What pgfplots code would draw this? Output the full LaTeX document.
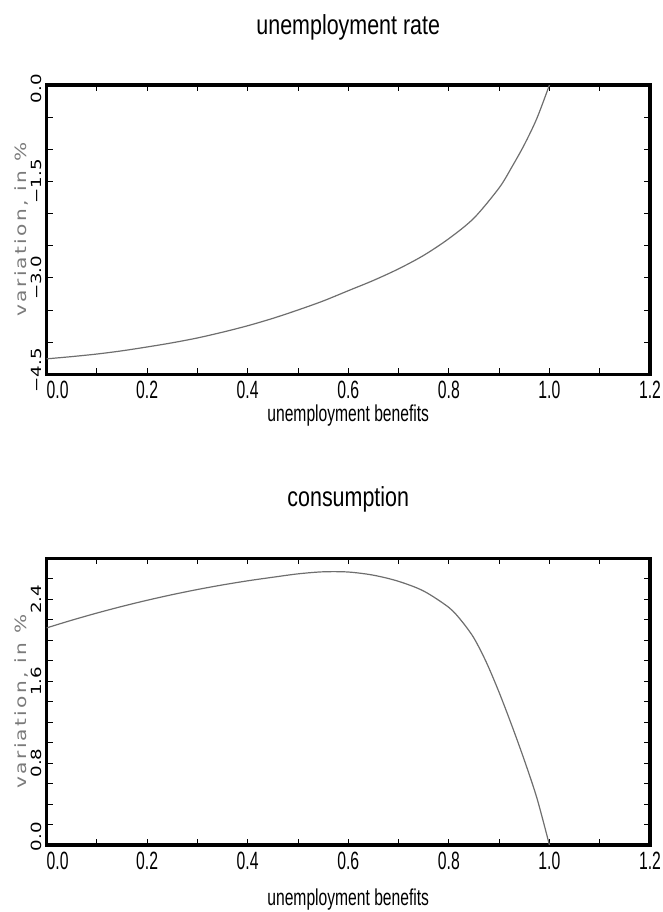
\documentclass[border=0pt]{standalone}
\usepackage{pgfplots}
\pgfplotsset{compat=1.18}
\usepackage{fontspec}
\setmainfont{Liberation Sans}
\newfontfamily\condfont[FakeStretch=0.78]{Liberation Sans}
\newfontfamily\xlabfont[FakeStretch=0.68]{Liberation Sans}
\newfontfamily\tickfont[FakeStretch=0.63]{Liberation Sans}
\newfontfamily\ytickfont[FakeStretch=1.3]{DejaVu Sans}
\newfontfamily\ylabfont[FakeStretch=1.3,LetterSpace=15]{DejaVu Sans}
\definecolor{curvegrey}{HTML}{6E6E6E}
\definecolor{labgrey}{HTML}{7A7A7A}

\pgfplotsset{
  myaxis/.style={
    scale only axis,
    width=603.5pt,
    xmin=0, xmax=1.2,
    axis line style={line width=3.4pt, black},
    tick style={line width=0.9pt, black},
    major tick length=0pt,
    minor tick length=6pt,
    tick align=inside,
    minor xtick={0,0.1,...,1.2},
    xtick={0.022,0.2,0.4,0.6,0.8,1.0,1.2},
    xticklabels={0.0,0.2,0.4,0.6,0.8,1.0,1.2},
    xticklabel style={font=\tickfont\fontsize{25}{25}\selectfont, inner sep=0pt, anchor=north, yshift=-7pt},
    yticklabel style={font=\ytickfont\fontsize{14}{14}\selectfont, rotate=90, anchor=south, inner xsep=0pt, inner ysep=4.5pt},
    every axis title/.style={at={(axis description cs:0.5,1)}, anchor=base, yshift=50pt, font=\condfont\fontsize{27.5}{30}\selectfont},
    every axis x label/.style={at={(axis description cs:0.5,0)}, anchor=base, font=\xlabfont\fontsize{23}{24}\selectfont},
    every axis y label/.style={at={(axis description cs:-0.0406,0.5)}, rotate=90, anchor=center, font=\ylabfont\fontsize{15.5}{16}\selectfont, color=labgrey},
    xlabel={unemployment benefits},
    ylabel={variation, in \%},
  }
}

\begin{document}
\begin{tikzpicture}
\path[use as bounding box] (0pt,0pt) rectangle (662pt,912pt);

\begin{axis}[myaxis,
  at={(46.5pt,537.7pt)}, anchor=south west,
  height=289.3pt,
  ymin=-4.5, ymax=0,
  minor ytick={-4.5,-4,...,0},
  ytick={-4.44,-3,-1.5,-0.06},
  yticklabels={−4.5,−3.0,−1.5,0.0},
  title={unemployment rate},
  every axis x label/.append style={yshift=-47pt},
]
\addplot[color=curvegrey, line width=1.2pt, smooth, tension=0.5] coordinates {
(0,-4.26) (0.05,-4.225) (0.1,-4.185) (0.15,-4.135) (0.2,-4.075) (0.25,-4.01)
(0.3,-3.935) (0.35,-3.845) (0.4,-3.745) (0.45,-3.63) (0.5,-3.50) (0.55,-3.36)
(0.6,-3.20) (0.65,-3.04) (0.7,-2.86) (0.75,-2.65) (0.8,-2.39) (0.85,-2.07)
(0.9,-1.60) (0.925,-1.28) (0.95,-0.93) (0.975,-0.52) (1.0,0)
};
\end{axis}

\begin{axis}[myaxis,
  at={(46.5pt,67pt)}, anchor=south west,
  height=286.7pt,
  ymin=0, ymax=2.8,
  minor ytick={0,0.2,...,2.8},
  ytick={0.08,0.8,1.6,2.4},
  yticklabels={0.0,0.8,1.6,2.4},
  title={consumption},
  every axis title/.append style={yshift=2pt},
  every axis x label/.append style={yshift=-60pt},
]
\addplot[color=curvegrey, line width=1.2pt, smooth, tension=0.5] coordinates {
(0,2.12) (0.05,2.195) (0.1,2.265) (0.15,2.33) (0.2,2.39) (0.25,2.445)
(0.3,2.495) (0.35,2.54) (0.4,2.58) (0.45,2.615) (0.5,2.648) (0.55,2.668)
(0.6,2.666) (0.65,2.635) (0.7,2.575) (0.75,2.48) (0.8,2.32) (0.825,2.19)
(0.85,2.02) (0.875,1.78) (0.9,1.49) (0.925,1.17) (0.95,0.83) (0.975,0.46)
(1.0,0)
};
\end{axis}
\end{tikzpicture}
\end{document}
